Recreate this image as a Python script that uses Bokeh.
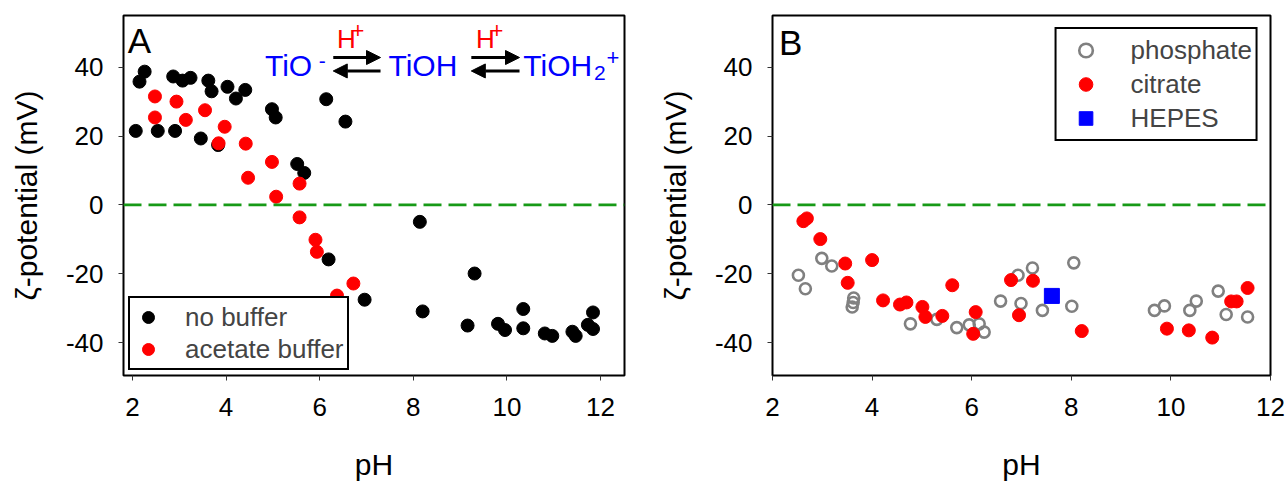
from bokeh.plotting import figure
from bokeh.layouts import row
from bokeh.models import Span, Label, Arrow, NormalHead, Range1d, FixedTicker
from bokeh.embed import file_html
from bokeh.resources import INLINE

FONT = "Liberation Sans"

# ---------------- data: panel A ----------------
nobuf_ph = [2.26, 2.15, 2.87, 3.07, 3.24, 3.62, 3.69, 4.03, 4.21, 4.41,
            4.98, 5.06, 6.14, 6.55, 2.07, 2.54, 2.91, 3.46, 3.83, 5.52,
            5.67, 6.19, 6.96, 8.14, 8.20, 9.31, 9.16, 9.81, 9.96, 10.35,
            10.35, 10.81, 10.97, 11.40, 11.47, 11.73, 11.84, 11.84]
nobuf_zeta = [38.7, 35.8, 37.3, 36.1, 36.9, 36.1, 33.0, 34.3, 30.9, 33.4,
              27.8, 25.4, 30.7, 24.2, 21.5, 21.5, 21.5, 19.3, 17.4, 11.9,
              9.3, -15.8, -27.5, -4.9, -30.9, -19.9, -35.0, -34.5, -36.3, -30.2,
              -35.8, -37.3, -38.0, -36.8, -38.0, -34.8, -31.2, -36.0]
acetate_ph = [2.48, 2.94, 2.48, 3.14, 3.55, 3.97, 3.84, 4.42, 4.98, 4.47,
              5.57, 5.07, 5.57, 5.91, 5.94, 6.72, 6.37]
acetate_zeta = [31.5, 30.0, 25.4, 24.7, 27.5, 22.7, 17.9, 17.8, 12.5, 7.9,
                6.2, 2.4, -3.6, -10.1, -13.6, -22.8, -26.3]

# ---------------- data: panel B ----------------
phos_ph = [2.52, 2.66, 2.99, 3.19, 3.63, 3.62, 3.60, 4.77, 5.30, 5.70,
           5.95, 6.15, 6.25, 6.58, 6.93, 6.99, 7.22, 7.42, 8.05, 8.01,
           9.67, 9.87, 10.38, 10.51, 10.95, 11.11, 11.54]
phos_zeta = [-20.4, -24.3, -15.5, -17.7, -27.0, -28.3, -29.6, -34.5, -33.2, -35.6,
             -34.8, -34.5, -36.9, -27.9, -20.4, -28.6, -18.3, -30.6, -16.8, -29.4,
             -30.6, -29.3, -30.6, -27.9, -25.0, -31.8, -32.5]
citr_ph = [2.62, 2.69, 2.96, 3.46, 3.51, 4.00, 4.22, 4.56, 4.69, 5.01,
           5.07, 5.41, 5.61, 6.08, 6.03, 6.79, 6.95, 7.23, 8.21, 9.92,
           10.36, 10.83, 11.21, 11.32, 11.54]
citr_zeta = [-4.7, -3.9, -9.9, -17.0, -22.6, -16.0, -27.7, -28.9, -28.3, -29.6,
             -32.5, -32.2, -23.3, -31.1, -37.4, -21.8, -32.0, -22.0, -36.6, -35.9,
             -36.4, -38.5, -28.0, -28.0, -24.1]
hepes_ph = [7.61]
hepes_zeta = [-26.4]

x_ticks = [2, 4, 6, 8, 10, 12]
x_tick_labels = ["2", "4", "6", "8", "10", "12"]
y_ticks = [-40, -20, 0, 20, 40]
y_tick_labels = ["-40", "-20", "0", "20", "40"]

HEIGHT = 483
TOP = 15
FRAME_H = 360


def make_fig(width, bl, br, xr):
    p = figure(width=width, height=HEIGHT, x_range=xr, y_range=Range1d(-49.5, 55),
               output_backend="svg", toolbar_location=None,
               min_border_left=bl, min_border_right=br,
               min_border_top=TOP, min_border_bottom=HEIGHT - TOP - FRAME_H)
    p.outline_line_color = "black"
    p.outline_line_width = 2
    p.outline_line_alpha = 1
    p.grid.visible = False
    p.background_fill_color = "white"
    p.border_fill_color = "white"
    p.xaxis.ticker = FixedTicker(ticks=x_ticks)
    p.yaxis.ticker = FixedTicker(ticks=y_ticks)
    p.xaxis.major_label_overrides = dict(zip(x_ticks, x_tick_labels))
    p.yaxis.major_label_overrides = dict(zip(y_ticks, y_tick_labels))
    for ax in (p.xaxis[0], p.yaxis[0]):
        ax.axis_line_color = None
        ax.major_tick_in = 0
        ax.major_tick_out = 5
        ax.major_tick_line_color = "#333333"
        ax.major_tick_line_width = 1
        ax.minor_tick_in = 0
        ax.minor_tick_out = 0
        ax.major_label_text_font = FONT
        ax.major_label_text_font_size = "26px"
        ax.major_label_text_color = "black"
        ax.axis_label_text_font = FONT
        ax.axis_label_text_font_size = "30px"
        ax.axis_label_text_font_style = "normal"
        ax.axis_label_text_color = "black"
    p.xaxis.major_label_standoff = 17
    p.yaxis.major_label_standoff = 15
    p.xaxis.axis_label = "pH"
    p.yaxis.axis_label = "\u03b6-potential (mV)"
    p.xaxis.axis_label_standoff = 29
    p.yaxis.axis_label_standoff = 20
    p.add_layout(Span(location=0, dimension="width", line_color="#179a17",
                      line_width=2.7, line_dash="18 7"))
    return p


def lab(fig, x, y, text, size, color):
    fig.add_layout(Label(x=x, y=y, text=text, text_font=FONT, text_font_size=size,
                         text_color=color, text_baseline="alphabetic"))


# ---------------- panel A ----------------
pa = make_fig(648, 123, 24, Range1d(1.808, 12.513))
pa.scatter(nobuf_ph, nobuf_zeta, size=13, marker="circle", fill_color="black",
           line_color="black", legend_label="no buffer")
pa.scatter(acetate_ph, acetate_zeta, size=13, marker="circle", fill_color="#ff0000",
           line_color="#ff0000", legend_label="acetate buffer")
lg = pa.legend[0]
lg.location = "bottom_left"
lg.margin = 5
lg.padding = 3
lg.spacing = 0
lg.glyph_width = 30
lg.glyph_height = 32
lg.label_height = 27
lg.label_standoff = 22
lg.label_text_font = FONT
lg.label_text_font_size = "26px"
lg.border_line_color = "black"
lg.border_line_width = 2
lg.border_line_alpha = 1
lg.background_fill_alpha = 1

lab(pa, 1.90, 47.6, "A", "35px", "black")

blue = "#0000ff"
red = "#ff0000"
lab(pa, 4.83, 40.6, "TiO", "30px", blue)
lab(pa, 5.98, 41.9, "-", "21px", blue)
lab(pa, 7.47, 40.6, "TiOH", "30px", blue)
lab(pa, 10.35, 40.6, "TiOH", "30px", blue)
lab(pa, 11.86, 38.2, "2", "21px", blue)
lab(pa, 12.13, 42.8, "+", "22px", blue)
for hx, px in ((6.37, 6.68), (9.34, 9.65)):
    lab(pa, hx, 48.2, "H", "26px", red)
    lab(pa, px, 50.6, "+", "22px", red)
for x0, x1 in ((6.29, 7.30), (9.24, 10.27)):
    pa.add_layout(Arrow(x_start=x0, y_start=42.8, x_end=x1, y_end=42.8,
                        line_width=3, line_color="black",
                        end=NormalHead(size=14, fill_color="black", line_color="black", line_width=1)))
    pa.add_layout(Arrow(x_start=x1, y_start=38.9, x_end=x0, y_end=38.9,
                        line_width=3, line_color="black",
                        end=NormalHead(size=14, fill_color="black", line_color="black", line_width=1)))

# ---------------- panel B ----------------
pb = make_fig(640, 124, 18, Range1d(2, 12))
pb.scatter(phos_ph, phos_zeta, size=11, marker="circle", fill_color=None,
           line_color="#808080", line_width=2.6, legend_label="phosphate")
pb.scatter(citr_ph, citr_zeta, size=13, marker="circle", fill_color="#ff0000",
           line_color="#ff0000", legend_label="citrate")
pb.scatter(hepes_ph, hepes_zeta, size=15, marker="square", fill_color="#0000ff",
           line_color="#0000ff", legend_label="HEPES")
lb = pb.legend[0]
lb.location = "top_right"
lb.margin = 12
lb.padding = 4
lb.spacing = 0
lb.glyph_width = 50
lb.glyph_height = 34
lb.label_height = 34
lb.label_standoff = 20
lb.label_text_font = FONT
lb.label_text_font_size = "26px"
lb.border_line_color = "black"
lb.border_line_width = 2
lb.border_line_alpha = 1
lb.background_fill_alpha = 1

lab(pb, 2.13, 47.2, "B", "35px", "black")

layout = row(pa, pb)
open("out.html", "w").write(file_html(layout, INLINE))
